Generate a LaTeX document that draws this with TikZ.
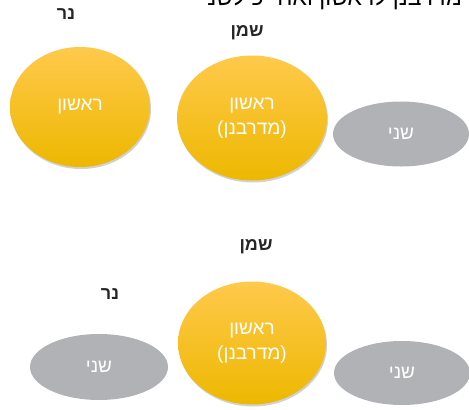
\documentclass[tikz,border=0pt]{standalone}
\usepackage{fontspec}
\setmainfont{Liberation Sans}
\newfontfamily\heb[Script=Hebrew]{Liberation Sans}
\TeXXeTstate=1
\usetikzlibrary{shapes.geometric,shadows}
\definecolor{goldtop}{HTML}{FFC94C}
\definecolor{goldmid}{HTML}{FFC60A}
\definecolor{goldbot}{HTML}{EDB800}
\definecolor{greyfill}{HTML}{B1B2B5}
\begin{document}
\begin{tikzpicture}[x=1pt,y=-1pt,
  gold/.style={ellipse, inner sep=0pt, draw=none, top color=goldtop, middle color=goldmid, bottom color=goldbot,
    text=white, align=center, font=\heb\fontsize{19}{25}\selectfont,
    drop shadow={opacity=0.3, shadow xshift=1pt, shadow yshift=-2pt, fill=black!60}},
  greyell/.style={ellipse, inner sep=0pt, draw=none, fill=greyfill, text=white, font=\heb\fontsize{19}{23}\selectfont},
  lbl/.style={font=\heb\bfseries\fontsize{18}{21}\selectfont, text=black!85, inner sep=0pt}]
\useasboundingbox (0,0) rectangle (469,410);
\node[anchor=base east, font=\heb\fontsize{23}{27}\selectfont, inner sep=0pt] (top) at (462,5.5) {\beginR מדרבנן לראשון ואח״כ לשני\endR};
% top diagram
\node[lbl] (ner1) at (66,14) {\beginR נר\endR};
\node[lbl] (shemen1) at (247,33) {\beginR שמן\endR};
\node[gold, minimum width=140pt, minimum height=120pt] (r1) at (80,107) {\beginR ראשון\endR};
\node[gold, minimum width=150pt, minimum height=125pt] (r2) at (252,118) {\beginR ראשון\endR\\\beginR (מדרבנן)\endR};
\node[greyell, minimum width=136pt, minimum height=65pt] (s1) at (401,134) {\beginR שני\endR};
% bottom diagram
\node[lbl] (shemen2) at (256,247) {\beginR שמן\endR};
\node[lbl] (ner2) at (110,294) {\beginR נר\endR};
\node[gold, minimum width=148pt, minimum height=123pt] (r3) at (252,343) {\beginR ראשון\endR\\\beginR (מדרבנן)\endR};
\node[greyell, minimum width=138pt, minimum height=66pt] (s2) at (99,367) {\beginR שני\endR};
\node[greyell, minimum width=136pt, minimum height=64pt] (s3) at (402,373) {\beginR שני\endR};
\end{tikzpicture}
\end{document}
